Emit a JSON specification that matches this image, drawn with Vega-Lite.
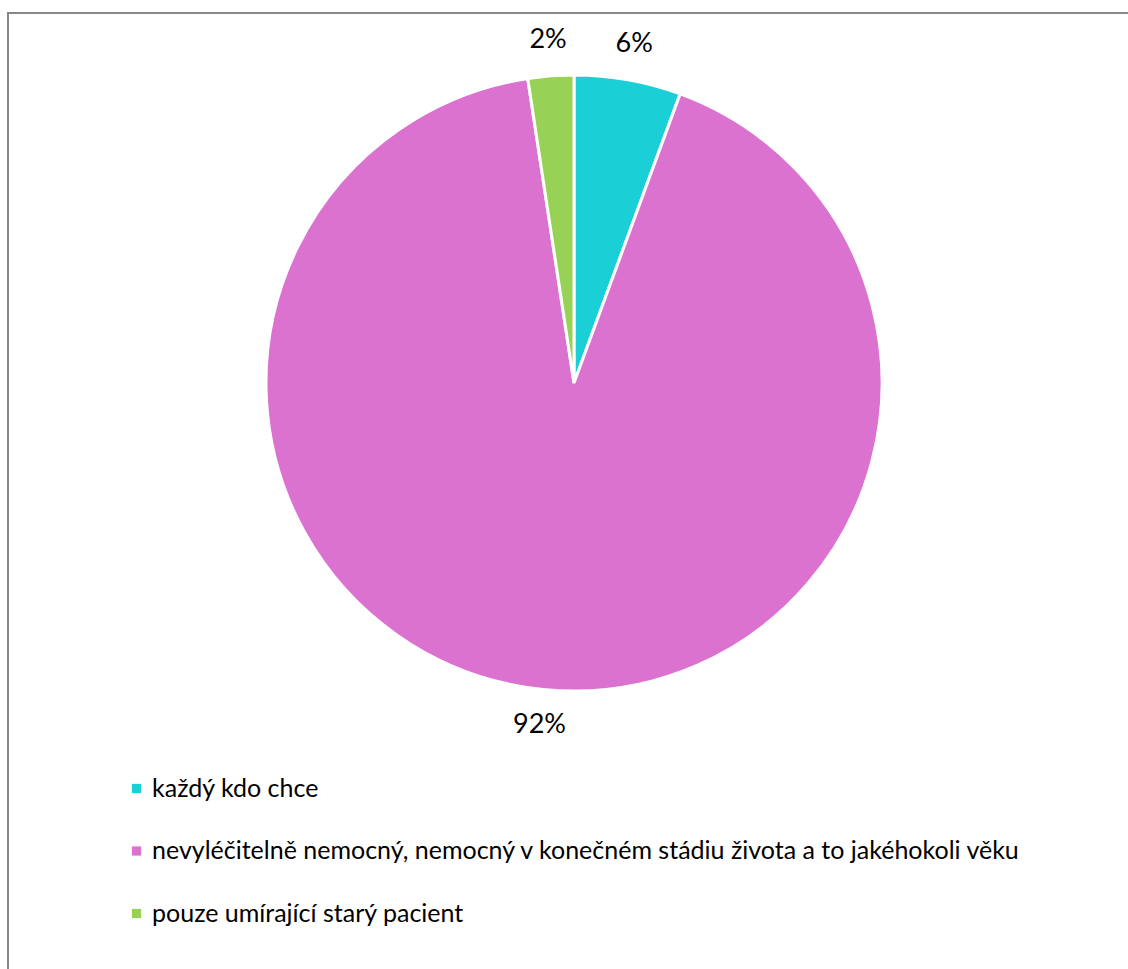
{
  "$schema": "https://vega.github.io/schema/vega-lite/v6.json",
  "width": 1140,
  "height": 1000,
  "autosize": "none",
  "padding": {"left": 8, "top": 13, "right": 0, "bottom": 0},
  "background": "white",
  "view": {"stroke": "#888888", "strokeWidth": 2, "fill": "white"},
  "config": {
    "font": "Lato"
  },
  "data": {
    "values": [
      {"poradi": 1, "kategorie": "každý kdo chce", "podil": 5.6, "popisek": "6%"},
      {"poradi": 2, "kategorie": "nevyléčitelně nemocný, nemocný v konečném stádiu života a to jakéhokoli věku", "podil": 92, "popisek": "92%"},
      {"poradi": 3, "kategorie": "pouze umírající starý pacient", "podil": 2.4, "popisek": "2%"}
    ]
  },
  "encoding": {
    "theta": {"field": "podil", "type": "quantitative", "stack": true},
    "order": {"field": "poradi", "type": "quantitative"},
    "color": {
      "field": "kategorie",
      "type": "nominal",
      "scale": {
        "domain": ["každý kdo chce", "nevyléčitelně nemocný, nemocný v konečném stádiu života a to jakéhokoli věku", "pouze umírající starý pacient"],
        "range": ["#1BCFD7", "#DB72CF", "#97D256"]
      },
      "legend": {
        "title": null,
        "orient": "none",
        "legendX": 116,
        "legendY": 763,
        "symbolType": "square",
        "symbolSize": 85,
        "symbolStrokeWidth": 0,
        "labelFontSize": 25,
        "labelFont": "Lato",
        "labelColor": "#000000",
        "labelLimit": 1100,
        "rowPadding": 36.5,
        "labelOffset": 3
      }
    }
  },
  "layer": [
    {
      "mark": {"type": "arc", "radius": 308, "x": 566, "y": 370, "stroke": "white", "strokeWidth": 3}
    },
    {
      "mark": {"type": "text", "radius": 344, "x": 566, "y": 370, "fontSize": 27, "font": "Lato"},
      "encoding": {
        "text": {"field": "popisek"},
        "color": {"value": "#000000"}
      }
    }
  ]
}
